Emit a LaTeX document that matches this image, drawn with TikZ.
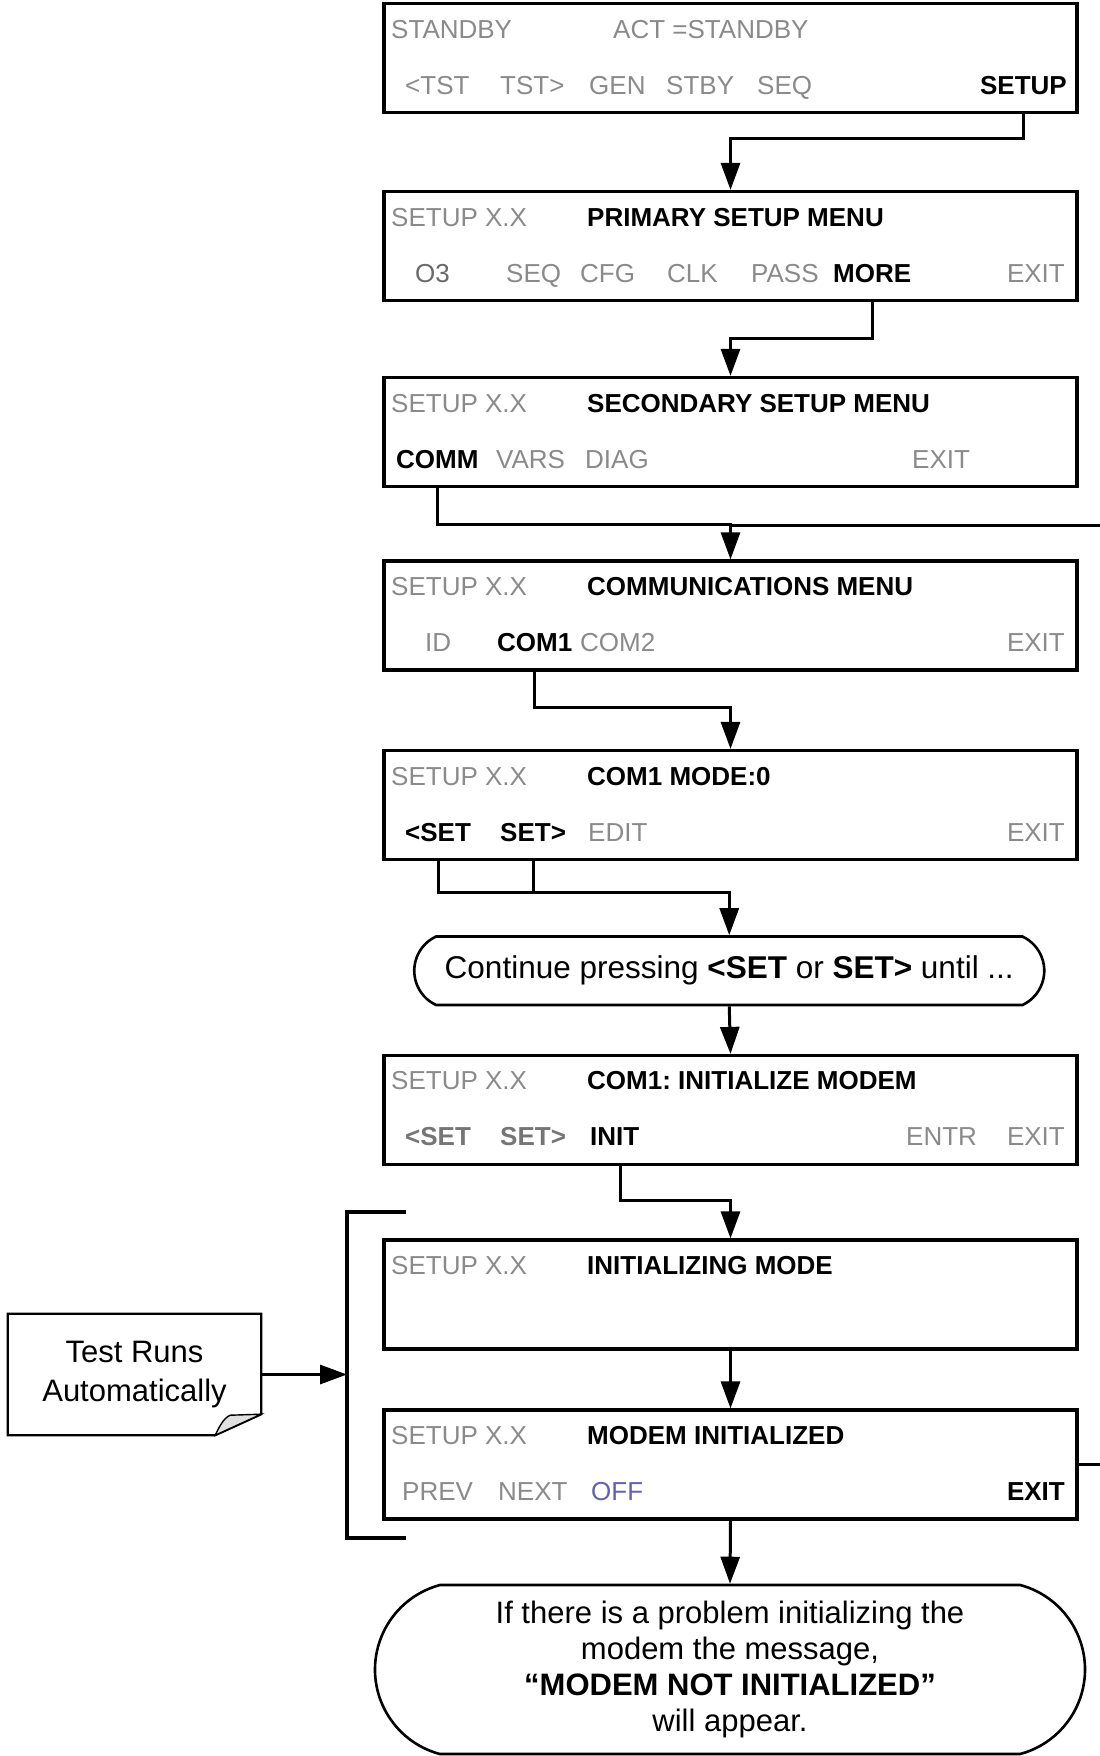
\documentclass[tikz,border=0pt]{standalone}
\usepackage{fontspec}
\setmainfont{Liberation Sans}
\usepackage{tikz}
\usetikzlibrary{arrows.meta,shapes.misc}
\definecolor{lcdgray}{RGB}{138,138,138}
\definecolor{lcddark}{RGB}{105,105,105}
\definecolor{offblue}{RGB}{98,98,168}
\frenchspacing

\begin{document}
\begin{tikzpicture}[x=1pt,y=-1pt,
  lcd/.style={draw,line width=3.2pt,minimum width=693pt,minimum height=109pt,inner sep=0pt},
  txt/.style={anchor=base west,inner sep=0pt,font=\fontsize{26}{30}\selectfont},
  dim/.style={txt,text=lcdgray},
  key/.style={txt,font=\fontsize{26}{30}\selectfont\bfseries},
  conn/.style={line width=3pt},
  arr/.style={conn,-{Triangle[length=27pt,width=19pt]}},
  pill/.style={draw,line width=2.6pt,rounded rectangle,align=center,inner sep=0pt}]
  \useasboundingbox (0,0) rectangle (1100,1756);

  % standby screen
  \node[lcd] (b1) at (730.5,58) {};
  \node[dim] (h1) at (391,38) {STANDBY}; \node[dim] (h1b) at (613,38) {ACT =STANDBY};
  \node[dim] (k1a) at (405,94) {<TST}; \node[dim] (k1b) at (500,94) {TST>}; \node[dim] (k1c) at (589,94) {GEN};
  \node[dim] (k1d) at (666,94) {STBY}; \node[dim] (k1e) at (757,94) {SEQ};
  \node[key,anchor=base east] (kSetup) at (1067,94) {SETUP};

  % primary setup
  \node[lcd] (b2) at (730.5,246) {};
  \node[dim] (h2) at (391,226) {SETUP X.X}; \node[key] (h2b) at (587,226) {PRIMARY SETUP MENU};
  \node[txt,text=lcddark] (k2a) at (415,282) {O3}; \node[dim] (k2b) at (506,282) {SEQ}; \node[dim] (k2c) at (580,282) {CFG};
  \node[dim] (k2d) at (667,282) {CLK}; \node[dim] (k2e) at (751,282) {PASS}; \node[key] (kMore) at (833,282) {MORE};
  \node[dim,anchor=base east] (k2g) at (1065,282) {EXIT};

  % secondary setup
  \node[lcd] (b3) at (730.5,432) {};
  \node[dim] (h3) at (391,412) {SETUP X.X}; \node[key] (h3b) at (587,412) {SECONDARY SETUP MENU};
  \node[key] (kComm) at (396,468) {COMM}; \node[dim] (k3b) at (496,468) {VARS}; \node[dim] (k3c) at (585,468) {DIAG};
  \node[dim] (k3d) at (912,468) {EXIT};

  % communications
  \node[lcd] (b4) at (730.5,615.5) {};
  \node[dim] (h4) at (391,595.5) {SETUP X.X}; \node[key] (h4b) at (587,595.5) {COMMUNICATIONS MENU};
  \node[dim] (k4a) at (425,651.5) {ID}; \node[key] (kCom1) at (497,651.5) {COM1}; \node[dim] (k4c) at (580,651.5) {COM2};
  \node[dim,anchor=base east] (k4d) at (1065,651.5) {EXIT};

  % com1 mode
  \node[lcd] (b5) at (730.5,805) {};
  \node[dim] (h5) at (391,785) {SETUP X.X}; \node[key] (h5b) at (587,785) {COM1 MODE:0};
  \node[key] (kLset) at (405,841) {<SET}; \node[key] (kRset) at (500,841) {SET>}; \node[dim] (k5c) at (588,841) {EDIT};
  \node[dim,anchor=base east] (k5d) at (1065,841) {EXIT};

  \node[pill,rounded rectangle arc length=130,minimum width=630pt,minimum height=68.5pt,font=\fontsize{31.5}{36}\selectfont] (cont) at (729.25,970.75)
    {Continue pressing \textbf{<SET} or \textbf{SET>} until ...};

  % initialize modem
  \node[lcd] (b6) at (730.5,1110) {};
  \node[dim] (h6) at (391,1089.5) {SETUP X.X}; \node[key] (h6b) at (587,1089.5) {COM1: INITIALIZE MODEM};
  \node[key,text=lcdgray!85!black] (k6a) at (405,1145.5) {<SET}; \node[key,text=lcdgray!85!black] (k6b) at (500,1145.5) {SET>};
  \node[key] (kInit) at (590,1145.5) {INIT}; \node[dim] (k6d) at (906,1145.5) {ENTR};
  \node[dim,anchor=base east] (k6e) at (1065,1145.5) {EXIT};

  \node[lcd] (b7) at (730.5,1294.5) {};
  \node[dim] (h7) at (391,1274.5) {SETUP X.X}; \node[key] (h7b) at (587,1274.5) {INITIALIZING MODE};

  \node[lcd] (b8) at (730.5,1464.5) {};
  \node[dim] (h8) at (391,1444.5) {SETUP X.X}; \node[key] (h8b) at (587,1444.5) {MODEM INITIALIZED};
  \node[dim] (k8a) at (402,1500.5) {PREV}; \node[dim] (k8b) at (498,1500.5) {NEXT}; \node[txt,text=offblue] (k8c) at (591,1500.5) {OFF};
  \node[key,anchor=base east] (kExit) at (1065,1500.5) {EXIT};

  \node[pill,rounded rectangle arc length=150,minimum width=710pt,minimum height=169pt,font=\fontsize{31}{36}\selectfont] (msg) at (730,1669.5)
    {If there is a problem initializing the\\modem the message,\\\textbf{“MODEM NOT INITIALIZED”}\\will appear.};

  % note + bracket
  \node[align=center,inner sep=0pt,minimum width=253pt,minimum height=121pt,font=\fontsize{31}{39}\selectfont] (note) at (134.5,1374.5)
    {Test Runs\\Automatically};
  \draw[line width=2.3pt] (note.north west) -- (note.north east) -- ([yshift=21pt]note.south east)
    -- ([xshift=-46pt]note.south east) -- (note.south west) -- cycle;
  \draw[line width=1.4pt,fill=black!12] ([yshift=21pt]note.south east) -- ([xshift=-31pt,yshift=20pt]note.south east)
    .. controls ([xshift=-38pt,yshift=17pt]note.south east) and ([xshift=-42pt,yshift=8pt]note.south east) .. ([xshift=-46pt]note.south east) -- cycle;
  \draw[line width=4pt] (406,1212) -- (347,1212) -- (347,1538) -- (406,1538);
  \coordinate (brk) at (347,1374.5);
  \coordinate (edgeA) at (1100,525);
  \coordinate (edgeB) at (1100,1464.5);

  % connectors
  \draw[arr] (kSetup.south |- b1.south) -- ++(0,24) -| (b2.north);
  \draw[arr] (kMore.south |- b2.south) -- ++(0,36) -| (b3.north);
  \draw[arr] (kComm.south |- b3.south) -- ++(0,36) -| (b4.north);
  \draw[conn] (edgeA -| b4.north) -- (edgeA);
  \draw[arr] (kCom1.south |- b4.south) -- ++(0,36) -| (b5.north);
  \draw[arr] (kLset.south |- b5.south) -- ++(0,31) -| (cont.north);
  \draw[conn] (kRset.south |- b5.south) -- ++(0,31);
  \draw[arr] (cont.south) -- (b6.north);
  \draw[arr] ([xshift=6pt]kInit.south |- b6.south) -- ++(0,34.5) -| (b7.north);
  \draw[arr] (b7.south) -- (b8.north);
  \draw[arr] (b8.south) -- (msg.north);
  \draw[conn] (b8.east) -- (edgeB);
  \draw[arr] (note.east) -- (brk);
\end{tikzpicture}
\end{document}
